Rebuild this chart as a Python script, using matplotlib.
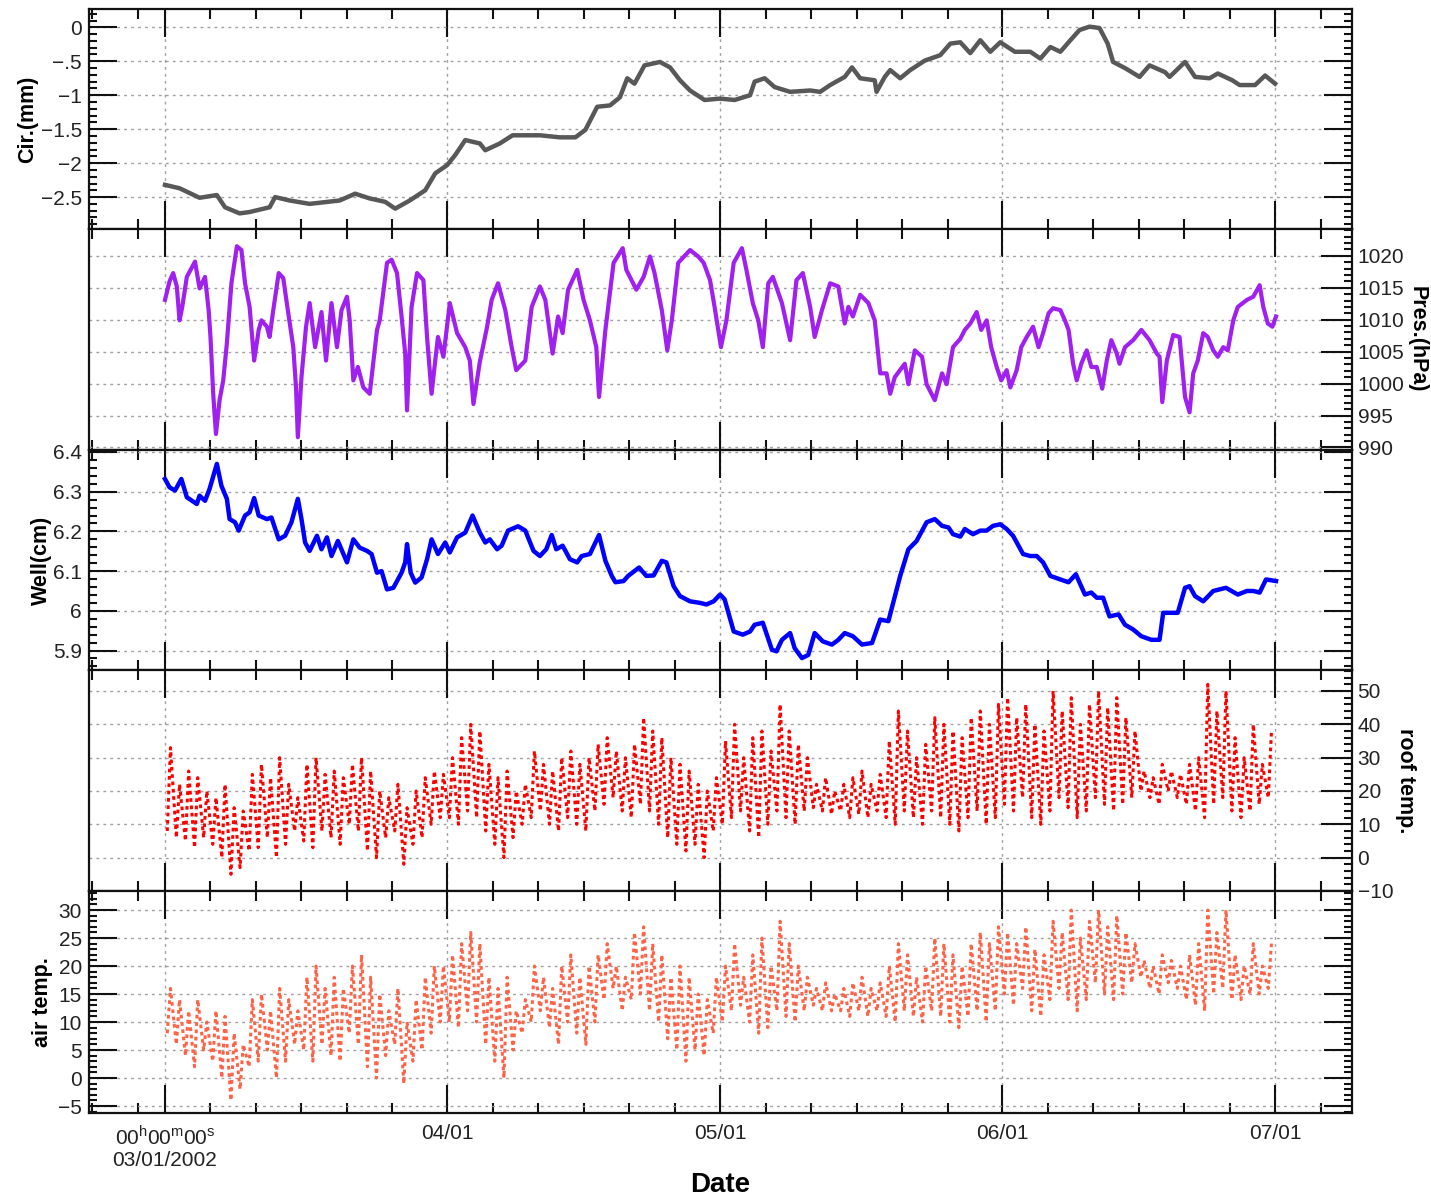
import numpy as np
import pandas as pd
import matplotlib
matplotlib.use("Agg")
import matplotlib.pyplot as plt
import matplotlib.dates as mdates
from matplotlib.ticker import MultipleLocator, FuncFormatter

plt.rcParams["font.family"] = ["Liberation Sans", "DejaVu Sans"]
plt.rcParams["mathtext.fontset"] = "custom"
plt.rcParams["mathtext.rm"] = "Liberation Sans"

START = pd.Timestamp("2002-03-01")

# --- circumference (mm), days since 03/01 ---
cir_days = [0, 1.6, 3.8, 5.7, 6.6, 8.2, 9.3, 11.5, 12.1, 13.7,
            15.9, 19.2, 20.9, 22.5, 24.2, 25.3, 26.9, 28.6, 29.7, 31.0,
            31.9, 33.0, 34.6, 35.2, 36.8, 38.2, 41.2, 43.4, 45.1, 46.2,
            47.5, 48.9, 50.0, 50.8, 51.6, 52.7, 54.4, 55.5, 56.6, 57.7,
            58.5, 59.3, 61.0, 62.6, 64.3, 64.8, 65.9, 67.0, 68.7, 70.9,
            72.0, 73.1, 74.7, 75.5, 76.4, 78.0, 78.2, 79.1, 79.7, 80.8,
            81.9, 83.5, 85.2, 86.3, 87.4, 88.5, 89.6, 90.7, 91.8, 93.4,
            95.1, 96.2, 97.3, 98.4, 99.5, 100.5, 101.6, 102.7, 103.6, 104.2,
            105.5, 107.1, 108.2, 109.9, 110.4, 112.1, 113.2, 114.8, 115.7, 117.3,
            118.1, 119.8, 120.9, 122.0]
cir_vals = [-2.32, -2.37, -2.51, -2.47, -2.65, -2.74, -2.72, -2.65, -2.5, -2.55,
            -2.6, -2.55, -2.45, -2.52, -2.57, -2.67, -2.55, -2.4, -2.15, -2.03,
            -1.88, -1.66, -1.71, -1.81, -1.71, -1.59, -1.59, -1.62, -1.62, -1.51,
            -1.17, -1.15, -1.03, -0.75, -0.83, -0.56, -0.51, -0.59, -0.78, -0.93,
            -1.0, -1.07, -1.05, -1.07, -1.0, -0.8, -0.75, -0.88, -0.95, -0.93,
            -0.95, -0.85, -0.73, -0.59, -0.75, -0.78, -0.95, -0.73, -0.63, -0.75,
            -0.63, -0.49, -0.41, -0.24, -0.22, -0.38, -0.19, -0.36, -0.22, -0.36,
            -0.36, -0.46, -0.29, -0.36, -0.19, -0.04, 0.01, -0.01, -0.24, -0.51,
            -0.6, -0.73, -0.56, -0.66, -0.73, -0.51, -0.73, -0.75, -0.68, -0.78,
            -0.85, -0.85, -0.71, -0.83]

# --- pressure (hPa) ---
pres_days = [0.0, 0.5, 0.9, 1.3, 1.6, 1.9, 2.4, 3.3, 3.8, 4.4,
             4.8, 5.0, 5.3, 5.6, 6.0, 6.4, 6.8, 7.3, 7.9, 8.4,
             8.8, 9.3, 9.8, 10.3, 10.6, 11.2, 11.5, 11.9, 12.5, 13.0,
             13.5, 14.1, 14.4, 14.6, 15.0, 15.5, 15.9, 16.5, 17.2, 17.7,
             18.3, 18.9, 19.4, 20.0, 20.3, 20.7, 21.2, 21.8, 22.5, 23.3,
             23.6, 24.4, 24.9, 25.5, 26.0, 26.4, 26.6, 27.1, 27.7, 28.4,
             28.8, 29.3, 29.7, 30.0, 30.6, 31.3, 32.1, 33.0, 33.5, 33.9,
             34.6, 35.4, 35.9, 36.6, 37.4, 38.1, 38.6, 39.6, 40.3, 41.2,
             41.8, 42.6, 43.2, 43.7, 44.3, 45.3, 46.0, 46.7, 47.4, 47.7,
             48.4, 49.3, 50.3, 50.7, 51.8, 52.6, 53.3, 53.8, 54.6, 55.2,
             55.7, 56.4, 57.7, 58.6, 59.2, 59.9, 60.4, 61.1, 61.7, 62.5,
             63.4, 63.9, 64.6, 65.2, 65.7, 66.3, 66.8, 67.8, 68.7, 69.4,
             70.1, 70.9, 71.4, 72.2, 73.1, 74.0, 74.7, 75.1, 75.6, 76.4,
             77.3, 78.0, 78.6, 79.3, 79.7, 80.2, 81.3, 81.7, 82.4, 83.2,
             83.7, 84.6, 85.4, 85.9, 86.6, 87.4, 87.9, 88.5, 89.2, 89.7,
             90.3, 90.8, 91.4, 91.9, 92.5, 92.9, 93.6, 94.1, 94.7, 95.4,
             96.0, 96.5, 97.1, 97.6, 98.4, 98.9, 99.3, 99.8, 100.2, 100.7,
             101.3, 101.8, 102.4, 103.0, 103.5, 104.0, 104.6, 104.9, 105.5, 106.4,
             107.3, 108.2, 109.0, 109.3, 109.6, 110.1, 110.8, 111.5, 112.1, 112.6,
             113.0, 113.5, 114.1, 114.6, 115.2, 115.7, 116.3, 116.8, 117.4, 117.9,
             118.9, 119.6, 120.3, 120.7, 121.2, 121.7, 122.1]
pres_vals = [1013.1, 1016.0, 1017.3, 1015.2, 1009.9, 1012.0, 1016.7, 1019.1, 1014.9, 1016.7,
             1011.5, 1007.3, 998.4, 992.1, 997.4, 1000.5, 1006.3, 1015.7, 1021.5, 1020.9,
             1015.7, 1012.0, 1003.6, 1008.4, 1009.9, 1008.9, 1007.3, 1011.5, 1017.3, 1016.5,
             1011.5, 1005.7, 999.4, 991.6, 1001.0, 1008.9, 1012.6, 1005.7, 1011.2, 1003.6,
             1012.6, 1005.7, 1011.5, 1013.6, 1009.9, 1000.5, 1002.6, 999.4, 998.4, 1008.4,
             1009.9, 1018.9, 1019.4, 1017.3, 1010.5, 1004.7, 995.8, 1012.0, 1017.3, 1016.2,
             1007.3, 998.4, 1003.6, 1007.3, 1004.2, 1012.6, 1007.9, 1005.7, 1003.6, 996.8,
             1003.4, 1008.9, 1013.1, 1015.7, 1011.5, 1005.7, 1002.1, 1003.6, 1012.0, 1015.2,
             1013.1, 1004.7, 1010.5, 1007.9, 1014.7, 1017.8, 1013.1, 1009.9, 1005.7, 997.9,
             1008.4, 1018.9, 1021.2, 1017.8, 1014.7, 1016.7, 1019.9, 1017.3, 1011.5, 1005.2,
             1009.9, 1018.9, 1020.9, 1019.9, 1018.9, 1016.2, 1012.0, 1005.7, 1009.9, 1018.9,
             1021.2, 1017.8, 1012.6, 1009.9, 1005.7, 1015.7, 1016.7, 1012.6, 1006.8, 1016.2,
             1017.3, 1012.0, 1007.3, 1011.5, 1015.7, 1015.2, 1009.4, 1012.0, 1010.5, 1013.9,
             1012.6, 1009.9, 1001.6, 1001.6, 998.4, 1001.0, 1003.1, 999.9, 1005.2, 1004.2,
             999.9, 997.4, 1001.6, 999.9, 1005.7, 1007.0, 1008.4, 1009.4, 1011.2, 1008.4,
             1009.9, 1005.7, 1002.6, 1000.5, 1002.1, 999.4, 1002.1, 1005.7, 1007.3, 1008.9,
             1005.7, 1007.9, 1011.0, 1011.8, 1011.5, 1009.9, 1008.4, 1003.1, 1000.5, 1003.1,
             1005.2, 1002.6, 1002.6, 999.2, 1003.6, 1006.8, 1004.7, 1003.1, 1005.7, 1006.8,
             1008.4, 1006.8, 1004.7, 1004.2, 997.1, 1003.6, 1007.6, 1007.3, 997.9, 995.5,
             1001.6, 1003.6, 1007.9, 1007.3, 1005.2, 1004.2, 1005.7, 1005.2, 1009.9, 1012.0,
             1013.1, 1013.6, 1015.4, 1012.0, 1009.4, 1008.9, 1010.5]

# --- well level (cm) ---
well_days = [0, 0.5, 1.1, 1.8, 2.4, 3.5, 3.8, 4.4, 4.9, 5.7,
             6.2, 6.8, 7.1, 7.7, 8.1, 8.8, 9.3, 9.8, 10.3, 11.2,
             11.7, 12.5, 13.2, 13.9, 14.6, 15.0, 15.4, 15.9, 16.7, 17.2,
             17.8, 18.3, 19.0, 20.0, 20.7, 21.4, 22.2, 22.7, 23.3, 23.8,
             24.4, 25.1, 26.0, 26.4, 26.6, 27.0, 27.5, 28.2, 28.8, 29.3,
             30.0, 30.8, 31.3, 32.1, 33.0, 33.8, 34.6, 35.2, 35.7, 36.5,
             37.0, 37.7, 38.8, 39.6, 40.5, 41.2, 41.9, 42.5, 43.0, 43.7,
             44.5, 45.3, 45.8, 46.7, 47.7, 48.4, 49.1, 49.5, 50.4, 50.9,
             52.1, 52.9, 53.7, 54.6, 55.1, 55.9, 56.6, 57.7, 58.8, 59.5,
             60.3, 61.0, 61.5, 62.5, 63.5, 64.3, 64.8, 65.7, 66.7, 67.2,
             67.8, 68.7, 69.2, 70.0, 70.7, 71.4, 72.3, 73.3, 74.0, 74.7,
             75.6, 76.6, 77.7, 78.6, 79.5, 80.8, 81.7, 82.6, 83.7, 84.6,
             85.4, 86.1, 86.6, 87.4, 87.9, 88.8, 89.6, 90.3, 91.0, 91.8,
             92.5, 93.2, 94.3, 95.1, 95.8, 96.5, 97.3, 98.4, 99.3, 100.1,
             101.1, 101.8, 102.4, 103.1, 103.8, 104.8, 105.5, 106.4, 107.3, 108.4,
             109.3, 109.7, 110.4, 111.3, 112.1, 112.6, 113.2, 114.1, 115.2, 115.9,
             116.6, 117.9, 118.9, 119.6, 120.3, 121.0, 122.1]
well_vals = [6.332, 6.311, 6.303, 6.332, 6.286, 6.269, 6.290, 6.277, 6.307, 6.370,
             6.315, 6.282, 6.231, 6.223, 6.202, 6.240, 6.248, 6.284, 6.240, 6.231,
             6.235, 6.180, 6.189, 6.223, 6.282, 6.231, 6.172, 6.151, 6.189, 6.155,
             6.185, 6.138, 6.176, 6.122, 6.180, 6.159, 6.151, 6.143, 6.096, 6.100,
             6.054, 6.058, 6.096, 6.122, 6.168, 6.096, 6.071, 6.084, 6.130, 6.180,
             6.143, 6.172, 6.147, 6.185, 6.197, 6.240, 6.197, 6.172, 6.180, 6.155,
             6.164, 6.202, 6.213, 6.202, 6.151, 6.138, 6.155, 6.191, 6.155, 6.164,
             6.130, 6.122, 6.138, 6.143, 6.191, 6.126, 6.088, 6.072, 6.075, 6.088,
             6.109, 6.088, 6.089, 6.126, 6.122, 6.062, 6.037, 6.024, 6.020, 6.016,
             6.024, 6.041, 6.029, 5.948, 5.940, 5.948, 5.965, 5.970, 5.902, 5.898,
             5.927, 5.944, 5.906, 5.881, 5.889, 5.944, 5.923, 5.915, 5.927, 5.944,
             5.936, 5.915, 5.919, 5.978, 5.974, 6.088, 6.155, 6.176, 6.223, 6.231,
             6.214, 6.210, 6.193, 6.187, 6.206, 6.193, 6.202, 6.202, 6.214, 6.218,
             6.206, 6.189, 6.143, 6.138, 6.138, 6.122, 6.088, 6.079, 6.072, 6.092,
             6.041, 6.046, 6.033, 6.033, 5.986, 5.991, 5.965, 5.953, 5.936, 5.927,
             5.927, 5.995, 5.995, 5.995, 6.058, 6.062, 6.037, 6.024, 6.050, 6.054,
             6.058, 6.041, 6.050, 6.050, 6.046, 6.079, 6.075]

# --- daily extremes of roof / air temperature, one value per day from 03/01 ---
roof_max = [33, 22, 26, 24, 20, 18, 22, 15, 14, 25, 28, 24, 30, 22, 18, 28, 30, 25, 26, 24, 28, 30, 26, 20, 18, 22, 15, 20, 24, 26, 25,
            30, 36, 40, 38, 28, 24, 26, 20, 22, 32, 28, 26, 30, 32, 28, 30, 34, 36, 32, 30, 34, 42, 38, 36, 30, 28, 26, 22, 20, 24,
            35, 40, 30, 36, 38, 32, 46, 38, 34, 30, 22, 24, 20, 22, 24, 26, 22, 25, 35, 44, 38, 30, 34, 42, 40, 38, 36, 42, 44, 40, 46,
            48, 42, 46, 40, 38, 50, 44, 48, 40, 46, 50, 45, 48, 42, 38, 26, 24, 28, 26, 25, 28, 30, 52, 44, 50, 36, 30, 40, 28, 38]
roof_min = [8, 6, 5, 3, 6, 4, 0, -5, -3, 2, 3, 6, 0, 4, 8, 5, 3, 8, 6, 4, 10, 8, 2, 0, 6, 8, -2, 4, 6, 10, 12,
            12, 10, 14, 12, 8, 4, 0, 6, 10, 12, 14, 10, 8, 12, 10, 8, 14, 16, 18, 14, 12, 16, 14, 10, 6, 4, 2, 4, 0, 8,
            10, 12, 14, 8, 6, 10, 14, 12, 10, 14, 15, 14, 13, 14, 12, 13, 12, 14, 12, 10, 14, 12, 10, 14, 12, 10, 8, 12, 14, 10, 12,
            16, 14, 18, 12, 10, 14, 18, 15, 12, 14, 18, 16, 14, 16, 18, 20, 18, 16, 20, 18, 16, 14, 12, 16, 18, 14, 12, 14, 16, 18]
air_max = [16, 14, 12, 14, 10, 12, 11, 8, 6, 14, 15, 12, 16, 14, 12, 18, 20, 16, 18, 16, 20, 22, 18, 15, 12, 16, 10, 14, 18, 20, 20,
           22, 24, 26, 24, 18, 16, 18, 12, 14, 20, 18, 16, 20, 22, 18, 20, 22, 24, 20, 18, 26, 27, 24, 22, 18, 20, 18, 15, 14, 18,
           20, 24, 18, 22, 25, 20, 28, 24, 20, 18, 16, 17, 15, 16, 17, 18, 16, 17, 20, 24, 22, 18, 20, 25, 24, 22, 20, 24, 26, 24, 27,
           26, 24, 27, 23, 22, 28, 26, 30, 25, 28, 30, 27, 29, 26, 24, 21, 20, 22, 21, 20, 22, 24, 30, 26, 30, 22, 20, 24, 20, 24]
air_min = [8, 6, 4, 2, 5, 3, 0, -4, -2, 2, 3, 5, 0, 3, 6, 5, 3, 6, 4, 3, 8, 6, 2, 0, 4, 6, -1, 3, 5, 8, 10,
           10, 9, 12, 10, 6, 3, 0, 5, 8, 10, 12, 9, 6, 10, 8, 6, 10, 14, 16, 12, 14, 15, 12, 10, 7, 5, 3, 5, 4, 8,
           10, 12, 13, 10, 8, 9, 12, 11, 10, 12, 13, 12, 12, 12, 11, 12, 11, 12, 11, 10, 12, 11, 10, 12, 11, 10, 9, 11, 12, 10, 12,
           15, 13, 16, 12, 11, 14, 16, 14, 12, 14, 17, 15, 14, 15, 17, 18, 16, 15, 17, 16, 14, 13, 12, 15, 16, 14, 14, 15, 15, 16]


def to_dates(days):
    return START + pd.to_timedelta(np.asarray(days, dtype=float), unit="D")


def daily_series(mins, maxs):
    # min early morning, max early afternoon
    d = np.arange(len(mins), dtype=float)
    t = np.column_stack([d + 0.25, d + 0.6]).ravel()
    v = np.column_stack([mins, maxs]).ravel()
    return to_dates(t), v


def fmt_tick(v, pos):
    s = "%g" % round(v, 6)
    if s.startswith("-0."):
        s = "-" + s[2:]
    return s.replace("-", "\u2212")


W, H = 1431, 1199
fig = plt.figure(figsize=(W / 100, H / 100), dpi=100)

left = 89 / W
width = (1352 - 89) / W
bounds = [(9, 229), (229, 450), (450, 670), (670, 891), (891, 1113)]

panels = [
    dict(label="Cir.(mm)", side="left", lx=0.019, ylim=(-2.97, 0.27), major=0.5, minor=0.1),
    dict(label="Pres.(hPa)", side="right", lx=0.990, ylim=(989.6, 1024.2), major=5, minor=1),
    dict(label="Well(cm)", side="left", lx=0.029, ylim=(5.851, 6.405), major=0.1, minor=0.02),
    dict(label="roof temp.", side="right", lx=0.982, ylim=(-10, 56.3), major=10, minor=2),
    dict(label="air temp.", side="left", lx=0.030, ylim=(-6.25, 33.4), major=5, minor=1),
]

xmin = START - pd.Timedelta(days=8.35)
xmax = START + pd.Timedelta(days=130.45)
label_col = "#222222"
axes = []
for i, (p, (top, bot)) in enumerate(zip(panels, bounds)):
    ax = fig.add_axes([left, 1 - bot / H, width, (bot - top) / H],
                      sharex=axes[0] if axes else None)
    ax.set_xlim(xmin, xmax)
    ax.set_ylim(*p["ylim"])
    ax.yaxis.set_major_locator(MultipleLocator(p["major"]))
    ax.yaxis.set_minor_locator(MultipleLocator(p["minor"]))
    ax.yaxis.set_major_formatter(FuncFormatter(fmt_tick))
    ax.xaxis.set_major_locator(mdates.MonthLocator())
    ax.xaxis.set_minor_locator(mdates.DayLocator(bymonthday=[6, 11, 16, 21, 26]))
    ax.grid(True, which="major", color="#a0a0a0", linestyle=(0, (2, 3)), linewidth=1)
    for s in ax.spines.values():
        s.set_linewidth(1.6)
        s.set_color("#111111")
    ax.tick_params(axis="x", which="major", direction="in", length=20, width=1.5,
                   top=True, bottom=True, labelbottom=False, color="#111111")
    ax.tick_params(axis="x", which="minor", direction="in", length=7, width=1.5,
                   top=True, bottom=True, color="#111111")
    yc = 1 - (top + bot) / 2 / H
    if p["side"] == "left":
        ax.tick_params(axis="y", which="both", direction="in", left=True, right=True,
                       labelleft=True, labelright=False, width=1.5, color="#111111")
        ax.tick_params(axis="y", which="major", length=20, pad=5,
                       labelsize=15, labelcolor=label_col)
        ax.tick_params(axis="y", which="minor", length=6)
        fig.text(p["lx"], yc, p["label"], rotation=90,
                 ha="center", va="center", fontsize=15.5, fontweight="bold")
    else:
        ax.tick_params(axis="y", which="both", direction="in", left=False, right=True,
                       labelleft=False, labelright=True, width=1.5, color="#111111")
        ax.tick_params(axis="y", which="major", length=22, pad=4,
                       labelsize=15, labelcolor=label_col)
        ax.tick_params(axis="y", which="minor", length=6)
        fig.text(p["lx"], yc, p["label"], rotation=270,
                 ha="center", va="center", fontsize=15.5, fontweight="bold")
    axes.append(ax)

axes[0].plot(to_dates(cir_days), cir_vals, color="#585858", lw=3.2)
axes[1].plot(to_dates(pres_days), pres_vals, color="#A020F0", lw=3)
axes[2].plot(to_dates(well_days), well_vals, color="#0000FF", lw=3.2)
t_roof, v_roof = daily_series(roof_min, roof_max)
axes[3].plot(t_roof, v_roof, color="#FF0000", lw=2.2, linestyle=(0, (1.2, 1.2)))
t_air, v_air = daily_series(air_min, air_max)
axes[4].plot(t_air, v_air, color="#FF6347", lw=2.2, linestyle=(0, (1.2, 1.2)))

bottom = axes[-1]
bottom.tick_params(axis="x", which="major", labelbottom=True, labelsize=15,
                   labelcolor=label_col, pad=8)


def xfmt(x, pos):
    d = mdates.num2date(x)
    if d.month == 3 and d.day == 1:
        return r"00$^{\mathrm{h}}$00$^{\mathrm{m}}$00$^{\mathrm{s}}$" + "\n03/01/2002"
    return d.strftime("%m/%d")


bottom.xaxis.set_major_formatter(FuncFormatter(xfmt))
fig.text(left + width / 2, 0.012, "Date", ha="center", va="center",
         fontsize=20, fontweight="bold")

fig.savefig("out.png", dpi=100)
